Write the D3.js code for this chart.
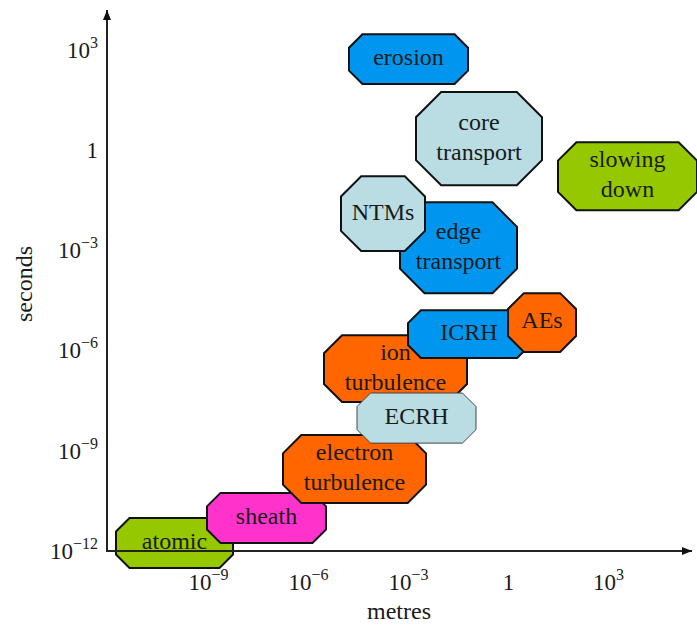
<!DOCTYPE html>
<html>
<head>
<meta charset="utf-8">
<script src="https://cdn.jsdelivr.net/npm/d3@7"></script>
<style>
  html, body { margin: 0; padding: 0; background: #fff; }
  svg, svg text { font-family: "Liberation Serif", "Times New Roman", "DejaVu Serif", serif; }
</style>
</head>
<body>
<svg id="chart" width="697" height="625"></svg>
<script>
// Plasma processes by characteristic length (metres) and time (seconds),
// each given as a range of base-10 exponents.
const processes = ["atomic", "sheath", "electron\nturbulence", "ion\nturbulence", "ECRH",
                   "ICRH", "AEs", "edge\ntransport", "NTMs", "core\ntransport", "erosion", "slowing\ndown"];
const lengthLo  = [-11.76, -9.03, -6.75, -5.52, -4.53, -3.00, 0.00, -3.24, -5.01, -2.76, -4.77, 1.50];
const lengthHi  = [ -8.25, -5.46, -2.46, -1.23, -0.96,  0.66, 2.04,  0.27, -2.49,  1.02, -1.20, 5.67];
const timeLo    = [-12.57, -11.82, -10.62, -7.60, -8.83, -6.28, -6.10, -4.34, -3.08, -1.11, 1.92, -1.86];
const timeHi    = [-11.07, -10.32,  -8.59, -5.60, -7.33, -4.85, -4.34, -1.62, -0.84,  1.68, 3.41,  0.18];
const fills     = ["#96c800", "#ff33cc", "#ff6600", "#ff6600", "#b9dde3",
                   "#0096f0", "#ff6600", "#0096f0", "#b9dde3", "#b9dde3", "#0096f0", "#96c800"];

// Tick exponents for both axes
const xTickExp = [-9, -6, -3, 0, 3];
const yTickExp = [-12, -9, -6, -3, 0, 3];

const FONT = "'Liberation Serif', 'Times New Roman', 'DejaVu Serif', serif";

const svg = d3.select("#chart");

const x = d3.scaleLog().domain([1e-12, 1e6]).range([108, 708]);
const y = d3.scaleLog().domain([1e-12, 1e3]).range([549, 48]);

const axisX0 = 107, axisY0 = 551;

// Octagon with corners cut by a fraction of the shorter side
function octagon(x0, x1, y0, y1) {
  const c = 0.27 * Math.min(x1 - x0, y1 - y0);
  return [[x0 + c, y0], [x1 - c, y0], [x1, y0 + c], [x1, y1 - c],
          [x1 - c, y1], [x0 + c, y1], [x0, y1 - c], [x0, y0 + c]];
}

const data = processes.map((name, i) => ({
  name,
  x0: x(10 ** lengthLo[i]), x1: x(10 ** lengthHi[i]),
  y0: y(10 ** timeHi[i]),  y1: y(10 ** timeLo[i]),
  fill: fills[i],
  thin: name === "ECRH"
}));

const g = svg.append("g");
const groups = g.selectAll("g.proc").data(data).join("g").attr("class", "proc");

groups.append("polygon")
  .attr("points", d => octagon(d.x0, d.x1, d.y0, d.y1).map(p => p.join(",")).join(" "))
  .attr("fill", d => d.fill)
  .attr("stroke", d => d.thin ? "#444" : "#111")
  .attr("stroke-width", d => d.thin ? 1 : 2)
  .attr("stroke-linejoin", "miter");

groups.each(function (d) {
  const lines = d.name.split("\n");
  const cx = (d.x0 + d.x1) / 2, cy = (d.y0 + d.y1) / 2 - 2;
  const lh = 30;
  const t = d3.select(this).append("text")
    .attr("text-anchor", "middle")
    .attr("font-family", FONT)
    .attr("font-size", 24)
    .attr("fill", "#1a1a1a");
  lines.forEach((ln, k) => {
    t.append("tspan")
      .attr("x", cx)
      .attr("y", cy + (k - (lines.length - 1) / 2) * lh)
      .attr("dy", "0.33em")
      .text(ln);
  });
});

// Axis tick labels as powers of ten
function powerLabel(sel, e) {
  sel.text(null);
  if (e === 0) { sel.append("tspan").text("1"); return; }
  sel.append("tspan").text("10");
  sel.append("tspan").attr("dy", -10).attr("font-size", 16)
    .text(e < 0 ? "\u2212" + (-e) : String(e));
}

const xAxis = d3.axisBottom(x).tickValues(xTickExp.map(e => 10 ** e))
  .tickSize(0).tickSizeOuter(0).tickFormat(() => "");
const gx = svg.append("g").attr("transform", `translate(0,${axisY0})`).call(xAxis)
  .attr("font-family", FONT);
gx.select(".domain").remove();
gx.selectAll(".tick text")
  .attr("font-family", FONT)
  .attr("font-size", 23).attr("fill", "#1a1a1a")
  .attr("y", 39).attr("dy", 0)
  .each(function (d) { powerLabel(d3.select(this), Math.round(Math.log10(d))); });

const yAxis = d3.axisLeft(y).tickValues(yTickExp.map(e => 10 ** e))
  .tickSize(0).tickSizeOuter(0).tickFormat(() => "");
const gy = svg.append("g").attr("transform", `translate(${axisX0},0)`).call(yAxis)
  .attr("font-family", FONT);
gy.select(".domain").remove();
gy.selectAll(".tick text")
  .attr("font-family", FONT)
  .attr("font-size", 23).attr("fill", "#1a1a1a")
  .attr("x", -9).attr("dy", "0.4em")
  .each(function (d) { powerLabel(d3.select(this), Math.round(Math.log10(d))); });

// Axis lines with arrowheads
const defs = svg.append("defs");
defs.append("marker").attr("id", "arrow")
  .attr("viewBox", "0 0 10 10").attr("refX", 10).attr("refY", 5)
  .attr("markerWidth", 10).attr("markerHeight", 10)
  .attr("markerUnits", "userSpaceOnUse").attr("orient", "auto")
  .append("path").attr("d", "M0,1 L10,5 L0,9 Z").attr("fill", "#111");

svg.append("line")
  .attr("x1", axisX0).attr("y1", axisY0).attr("x2", 692).attr("y2", axisY0)
  .attr("stroke", "#222").attr("stroke-width", 2).attr("marker-end", "url(#arrow)");
svg.append("line")
  .attr("x1", axisX0).attr("y1", axisY0 + 1).attr("x2", axisX0).attr("y2", 10)
  .attr("stroke", "#222").attr("stroke-width", 2).attr("marker-end", "url(#arrow)");

// Axis titles
svg.append("text")
  .attr("x", 399).attr("y", 619)
  .attr("font-family", FONT)
  .attr("text-anchor", "middle").attr("font-size", 24).attr("fill", "#1a1a1a")
  .text("metres");
svg.append("text")
  .attr("transform", "translate(32,284) rotate(-90)")
  .attr("font-family", FONT)
  .attr("text-anchor", "middle").attr("font-size", 24).attr("fill", "#1a1a1a")
  .text("seconds");
</script>
</body>
</html>
